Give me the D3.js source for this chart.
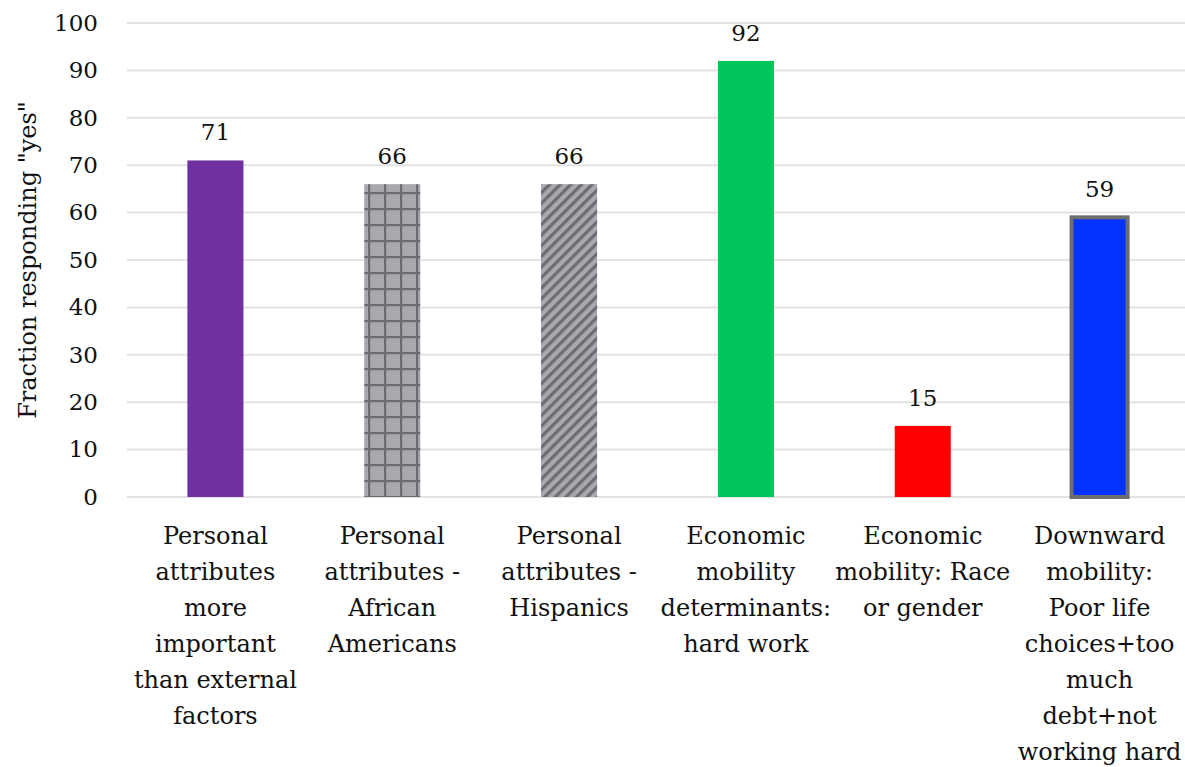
<!DOCTYPE html>
<html>
<head>
<meta charset="utf-8">
<script src="https://cdn.jsdelivr.net/npm/d3@7"></script>
<style>
  body { margin: 0; background: #fff; }
  svg { display: block; }
  text { font-family: "DejaVu Serif", "Liberation Serif", serif; fill: #111; }
</style>
</head>
<body>
<svg id="chart" width="1185" height="767"></svg>
<script>
// Survey items and share answering "yes"
const categories = [
  ["Personal", "attributes", "more", "important", "than external", "factors"],
  ["Personal", "attributes -", "African", "Americans"],
  ["Personal", "attributes -", "Hispanics"],
  ["Economic", "mobility", "determinants:", "hard work"],
  ["Economic", "mobility: Race", "or gender"],
  ["Downward", "mobility:", "Poor life", "choices+too", "much", "debt+not", "working hard"]
];
const values = [71, 66, 66, 92, 15, 59];
const yTicks = [0, 10, 20, 30, 40, 50, 60, 70, 80, 90, 100];
const fills = ["#7030a0", "url(#grid)", "url(#stripes)", "#00c65c", "#ff0000", "#0433ff"];
const yTitle = 'Fraction responding "yes"';

const FONT = '"DejaVu Serif", "Liberation Serif", serif';
const NUM_FS = "23px";
const TXT_FS = "24px";

const svg = d3.select("#chart");
const W = 1185, H = 767;
const plotLeft = 127, plotRight = 1188, plotTop = 23, plotBottom = 497;

const defs = svg.append("defs");
// square lattice fill
const g1 = defs.append("pattern").attr("id", "grid").attr("patternUnits", "userSpaceOnUse")
  .attr("width", 16).attr("height", 16);
g1.append("rect").attr("width", 16).attr("height", 16).attr("fill", "#a7a9ae");
g1.append("rect").attr("x", 0).attr("y", 0).attr("width", 2.2).attr("height", 16).attr("fill", "#6b6d72");
g1.append("rect").attr("x", 0).attr("y", 0).attr("width", 16).attr("height", 2.2).attr("fill", "#6b6d72");
// diagonal stripe fill
const g2 = defs.append("pattern").attr("id", "stripes").attr("patternUnits", "userSpaceOnUse")
  .attr("width", 7.5).attr("height", 7.5).attr("patternTransform", "rotate(45)");
g2.append("rect").attr("width", 7.5).attr("height", 7.5).attr("fill", "#a7a9ae");
g2.append("rect").attr("x", 0).attr("y", 0).attr("width", 3.2).attr("height", 7.5).attr("fill", "#6b6d72");

const x = d3.scaleBand().domain(d3.range(values.length))
  .range([plotLeft, plotRight]).paddingInner(0.683).paddingOuter(0.3415);
const y = d3.scaleLinear().domain([0, 100]).range([plotBottom, plotTop]);

// horizontal gridlines
svg.append("g").selectAll("line").data(yTicks).join("line")
  .attr("x1", plotLeft).attr("x2", W)
  .attr("y1", d => y(d)).attr("y2", d => y(d))
  .attr("stroke", "#e3e3e3").attr("stroke-width", 2);

// y axis labels
const yAxis = d3.axisLeft(y).tickValues(yTicks).tickSize(0).tickPadding(0);
const ya = svg.append("g").attr("transform", `translate(${plotLeft - 29},0)`).call(yAxis);
ya.attr("font-family", null).attr("font-size", null);
ya.select(".domain").remove();
ya.selectAll("text").style("font-family", FONT).style("font-size", NUM_FS).attr("fill", "#111");

// bars
svg.append("g").selectAll("rect").data(values).join("rect")
  .attr("x", (d, i) => x(i)).attr("width", x.bandwidth())
  .attr("y", d => y(d)).attr("height", d => y(0) - y(d))
  .attr("fill", (d, i) => fills[i])
  .attr("stroke", (d, i) => i === 5 ? "#6e6e6e" : "none")
  .attr("stroke-width", 4);

// value labels
svg.append("g").selectAll("text").data(values).join("text")
  .attr("x", (d, i) => x(i) + x.bandwidth() / 2).attr("y", d => y(d) - 20)
  .attr("text-anchor", "middle").style("font-size", NUM_FS).text(d => d);

// category labels
const cl = svg.append("g").selectAll("text").data(categories).join("text")
  .attr("text-anchor", "middle").style("font-size", TXT_FS)
  .attr("transform", (d, i) => `translate(${x(i) + x.bandwidth() / 2},${y(0) + 47})`);
cl.selectAll("tspan").data(d => d).join("tspan")
  .attr("x", 0).attr("y", (d, j) => j * 36).text(d => d);

// y axis title
svg.append("text").attr("transform", `translate(36,${(y(0) + y(100)) / 2}) rotate(-90)`)
  .attr("text-anchor", "middle").style("font-size", TXT_FS).text(yTitle);
</script>
</body>
</html>
